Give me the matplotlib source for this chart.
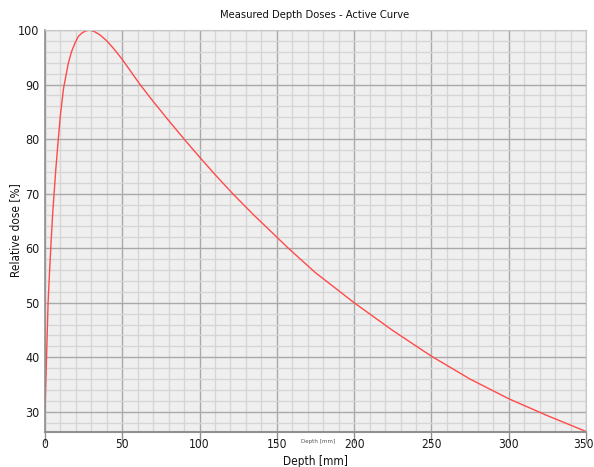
import matplotlib
matplotlib.use("Agg")
import matplotlib.pyplot as plt
import matplotlib.transforms as mtransforms
import numpy as np

# depth dose curve
depth = [0, 1, 2, 3, 4, 5, 6, 7, 8.6, 10, 12, 15, 17, 19.4, 21.5, 23.7, 26, 29, 32, 35.6, 40, 45,
         50, 61.5, 70, 80, 90.6, 100, 110, 121.4, 135, 157.4, 175, 200, 225, 250, 275, 300, 325, 350]
dose = [30.3, 40, 50, 56, 61.5, 66.5, 70.5, 74.5, 80, 84.5, 89.3, 93.8, 95.9, 97.6, 98.8, 99.4, 99.8, 100,
        99.7, 99.1, 98.0, 96.4, 94.6, 90, 86.9, 83.4, 79.8, 76.7, 73.5, 70, 66.1, 60.0, 55.5, 50, 44.9,
        40.2, 36.0, 32.4, 29.3, 26.4]

xticks = [0, 50, 100, 150, 200, 250, 300, 350]
yticks = [30, 40, 50, 60, 70, 80, 90, 100]

plt.rcParams['font.family'] = ['DejaVu Sans']
plt.rcParams['font.stretch'] = 'condensed'

fig = plt.figure(figsize=(5.94, 4.67), dpi=100)
ax = fig.add_axes([45/594, 1-432/467, 541/594, 402/467])
ax.set_facecolor('#efefef')

ax.plot(depth, dose, color='#ff4a4a', lw=1.0)

ax.set_xlim(0, 350)
ax.set_ylim(26.3, 100)
ax.set_xticks(xticks)
ax.set_yticks(yticks)
ax.set_xticks(np.arange(0, 351, 10), minor=True)
ax.set_yticks(np.arange(28, 100, 2), minor=True)
ax.grid(which='major', color='#a9a9a9', lw=1.0)
ax.grid(which='minor', color='#d6d6d6', lw=1.0)
ax.set_axisbelow(True)

ax.tick_params(axis='x', which='major', length=8, width=1, color='#909090', pad=-4,
               labelsize=8.6, labelcolor='#1a1a1a')
ax.tick_params(axis='y', which='major', length=0, pad=4, labelsize=9, labelcolor='#1a1a1a')
ax.tick_params(which='minor', length=0)

# "350" sits right on the figure edge, pull it in a couple of pixels
last = ax.xaxis.get_major_ticks()[-1].label1
last.set_transform(last.get_transform() + mtransforms.ScaledTranslation(-3/100, 0, fig.dpi_scale_trans))

for s in ['top', 'right']:
    ax.spines[s].set_color('#c8c8c8')
ax.spines['left'].set_color('#909090')
ax.spines['bottom'].set_color('#909090')
ax.spines['left'].set_linewidth(1.2)
ax.spines['bottom'].set_linewidth(1.5)

fig.text(315/594, 1-15/467, 'Measured Depth Doses - Active Curve', ha='center', va='center',
         fontsize=8, color='#111111')
fig.text(315/594, 1-461/467, 'Depth [mm]', ha='center', va='center', fontsize=8.5, color='#111111')
fig.text(16/594, 1-230/467, 'Relative dose [%]', ha='center', va='center', rotation=90,
         fontsize=8.5, color='#111111')
fig.text(318/594, 1-442/467, 'Depth [mm]', ha='center', va='center', fontsize=4.5, color='#555555')

fig.savefig('out.png', dpi=100)
